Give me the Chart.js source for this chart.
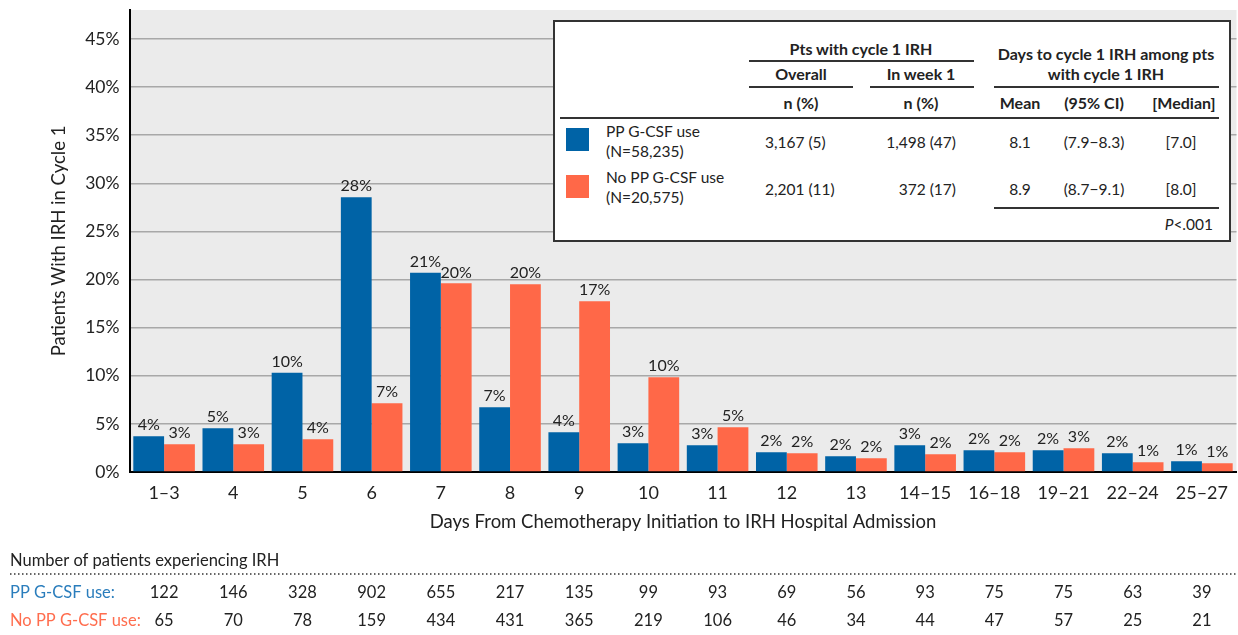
<!DOCTYPE html>
<html><head><meta charset="utf-8">
<script src="https://cdn.jsdelivr.net/npm/chart.js@4.4.0/dist/chart.umd.min.js"></script>
<style>
html,body{margin:0;padding:0;background:#fff;}
#wrap{position:relative;width:1238px;height:635px;font-family:Lato,'Open Sans',sans-serif;color:#222;overflow:hidden;}
#c{position:absolute;left:0;top:0;}
#box{position:absolute;left:553px;top:20px;width:678px;height:222px;background:#fff;border:2px solid #333;box-sizing:border-box;}
.t{position:absolute;white-space:nowrap;font-size:15.5px;line-height:1.2;}
.b{font-weight:bold;font-size:16px;}
.ln{position:absolute;height:1.5px;background:#333;}
.sq{position:absolute;width:23px;height:23px;}
</style></head>
<body><div id="wrap"><canvas id="c" width="1238" height="635"></canvas><div id="box"></div></div>
<script>
// ---- data ----
const categories = ['1–3','4','5','6','7','8','9','10','11','12','13','14–15','16–18','19–21','22–24','25–27'];
const ppValues   = [3.72,4.55,10.31,28.54,20.7,6.74,4.13,2.99,2.78,2.05,1.63,2.78,2.26,2.26,1.94,1.11];
const noPpValues = [2.88,2.88,3.40,7.15,19.6,19.5,17.74,9.85,4.65,1.94,1.42,1.84,2.05,2.47,1.01,0.90];
const ppLabels   = ['4%','5%','10%','28%','21%','7%','4%','3%','3%','2%','2%','3%','2%','2%','2%','1%'];
const noPpLabels = ['3%','3%','4%','7%','20%','20%','17%','10%','5%','2%','2%','2%','2%','3%','1%','1%'];
const ppCounts   = [122,146,328,902,655,217,135,99,93,69,56,93,75,75,63,39];
const noPpCounts = [65,70,78,159,434,431,365,219,106,46,34,44,47,57,25,21];
const seriesNames = ['PP G-CSF use','No PP G-CSF use'];
const seriesN = ['(N=58,235)','(N=20,575)'];
const overall = ['3,167 (5)','2,201 (11)'];
const week1 = ['1,498 (47)','372 (17)'];
const meanDays = ['8.1','8.9'];
const ciDays = ['(7.9−8.3)','(8.7−9.1)'];
const medianDays = ['[7.0]','[8.0]'];

const BLUE = '#0063a6', ORANGE = '#ff6848';
const FONT = 'Lato, "Open Sans", sans-serif';

// ---- plugins ----
const bgPlugin = {
  id:'bg',
  beforeDraw(chart){
    const {ctx, chartArea:a} = chart;
    ctx.save(); ctx.fillStyle='#ebebeb';
    ctx.fillRect(a.left, a.top, a.right-a.left, a.bottom-a.top);
    ctx.restore();
  }
};
const labelPlugin = {
  id:'lbl',
  afterDatasetsDraw(chart){
    const ctx = chart.ctx;
    const labs = [ppLabels, noPpLabels];
    ctx.save();
    ctx.font = '16px ' + FONT; ctx.fillStyle='#222';
    ctx.textAlign='center'; ctx.textBaseline='bottom';
    chart.data.datasets.forEach((ds, di)=>{
      chart.getDatasetMeta(di).data.forEach((el, i)=>{
        ctx.fillText(labs[di][i], el.x, el.y - 3);
      });
    });
    ctx.restore();
  }
};
const tablePlugin = {
  id:'tbl',
  afterDraw(chart){
    const ctx = chart.ctx, x = chart.scales.x;
    ctx.save();
    ctx.font = '16.5px ' + FONT; ctx.textBaseline='middle';
    ctx.fillStyle='#222'; ctx.textAlign='left';
    ctx.fillText('Number of patients experiencing IRH', 10, 561);
    ctx.strokeStyle='#333'; ctx.lineWidth=1.3; ctx.setLineDash([1.5,2.5]);
    ctx.beginPath(); ctx.moveTo(10,574); ctx.lineTo(1238,574); ctx.stroke();
    ctx.fillStyle='#2a7dbc'; ctx.fillText('PP G-CSF use:', 10, 593);
    ctx.fillStyle='#ff6d4e'; ctx.fillText('No PP G-CSF use:', 10, 621);
    ctx.fillStyle='#222'; ctx.textAlign='center';
    categories.forEach((c,i)=>{
      const px = x.getPixelForValue(i);
      ctx.fillText(String(ppCounts[i]), px, 593);
      ctx.fillText(String(noPpCounts[i]), px, 621);
    });
    ctx.restore();
  }
};

const PADL = 48, AREA_L = 129.5, AREA_B = 472, XH = 61;
new Chart(document.getElementById('c'), {
  type:'bar',
  data:{labels:categories, datasets:[
    {data:ppValues, backgroundColor:BLUE, categoryPercentage:0.89, barPercentage:1},
    {data:noPpValues, backgroundColor:ORANGE, categoryPercentage:0.89, barPercentage:1}
  ]},
  options:{
    responsive:false, animation:false, devicePixelRatio:1,
    layout:{padding:{left:PADL, top:0, right:0, bottom:635-AREA_B-XH}},
    plugins:{legend:{display:false}, tooltip:{enabled:false}},
    scales:{
      x:{
        grid:{display:false, drawTicks:false},
        border:{color:'#000', width:2},
        ticks:{font:{size:18, family:FONT}, color:'#222', padding:10, maxRotation:0, autoSkip:false},
        title:{display:true, text:'Days From Chemotherapy Initiation to IRH Hospital Admission', font:{size:18.5, family:FONT}, color:'#222', padding:0},
        afterFit(s){ s.height = XH; }
      },
      y:{
        min:0, max:48,
        ticks:{stepSize:5, includeBounds:false, callback:v=>v+'%', padding:10, font:{size:17.5, family:FONT}, color:'#222'},
        grid:{color:'#a8a8a8', lineWidth:1.5, drawTicks:false},
        border:{color:'#000', width:2},
        title:{display:true, text:'Patients With IRH in Cycle 1', font:{size:18.5, family:FONT}, color:'#222', padding:{top:0,bottom:0}},
        afterFit(s){ s.width = AREA_L - PADL; s.paddingTop = 10; }
      }
    }
  },
  plugins:[bgPlugin, labelPlugin, tablePlugin]
});

// ---- legend table (HTML text) ----
const wrap = document.getElementById('wrap');
function t(txt, x, y, align, bold, html){
  const s = document.createElement('div');
  s.className = 't' + (bold ? ' b' : '');
  if (html) s.innerHTML = txt; else s.textContent = txt;
  s.style.left = x + 'px'; s.style.top = y + 'px';
  const tx = align==='center' ? '-50%' : align==='right' ? '-100%' : '0';
  s.style.transform = 'translate(' + tx + ',-50%)';
  wrap.appendChild(s);
}
function ln(x1, x2, y){
  const d = document.createElement('div'); d.className='ln';
  d.style.left = x1+'px'; d.style.width=(x2-x1)+'px'; d.style.top=(y-0.75)+'px';
  wrap.appendChild(d);
}
t('Pts with cycle 1 IRH', 861, 49, 'center', true);
ln(749, 974, 61);
t('Overall', 801, 74, 'center', true);
t('In week 1', 921, 74, 'center', true);
ln(749, 853, 87); ln(870, 974, 87);
t('Days to cycle 1 IRH among pts', 1106, 54, 'center', true);
t('with cycle 1 IRH', 1106, 74, 'center', true);
ln(994, 1219, 87);
t('n (%)', 801, 103, 'center', true);
t('n (%)', 921, 103, 'center', true);
t('Mean', 1020, 103, 'center', true);
t('(95% CI)', 1094, 103, 'center', true);
t('[Median]', 1184, 103, 'center', true);
ln(560, 1219, 118);
const rowsY = [[131,151,142],[177,197,189]];
[BLUE, ORANGE].forEach((col, r)=>{
  const sq = document.createElement('div'); sq.className='sq';
  sq.style.background = col; sq.style.left='566px'; sq.style.top=(r===0?128:175)+'px';
  wrap.appendChild(sq);
  const [y1,y2,yv] = rowsY[r];
  t(seriesNames[r], 606, y1, 'left');
  t(seriesN[r], 606, y2, 'left');
  t(overall[r], 765, yv, 'left');
  t(week1[r], 956, yv, 'right');
  t(meanDays[r], 1020, yv, 'center');
  t(ciDays[r], 1094, yv, 'center');
  t(medianDays[r], 1181, yv, 'center');
});
ln(994, 1219, 208);
t('<i>P</i>&lt;.001', 1213, 224, 'right', false, true);
</script>
</body></html>
